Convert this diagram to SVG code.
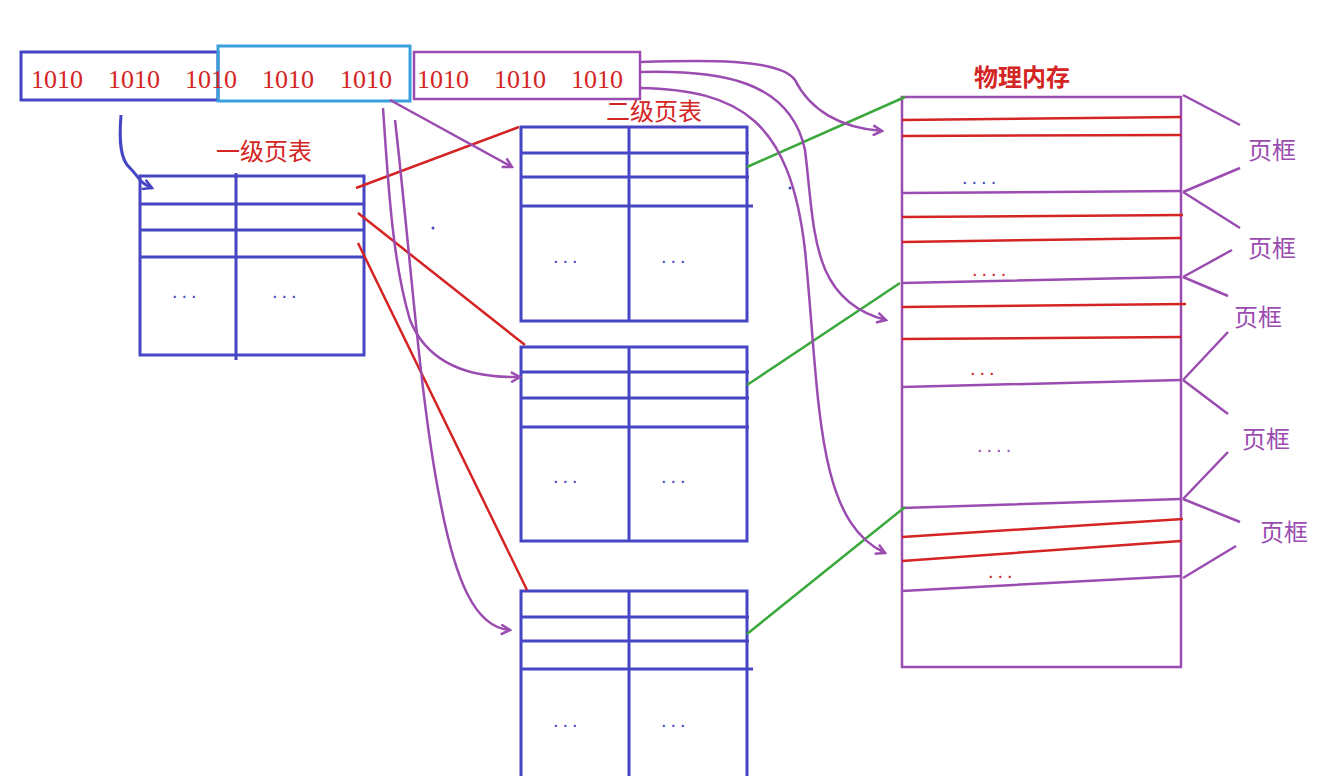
<svg xmlns="http://www.w3.org/2000/svg" width="1330" height="776" viewBox="0 0 1330 776">
<style>
.b{fill:none;stroke:#4646c4;stroke-width:3}
.r{fill:none;stroke:#d42424;stroke-width:2.5}
.p{fill:none;stroke:#9a4cb0;stroke-width:2.5}
.g{fill:none;stroke:#3aa83a;stroke-width:2.5}
.num{font-family:"Liberation Serif",serif;font-size:26px;fill:#d42424}
.t{font-family:"Liberation Serif","Noto Sans CJK SC",serif;font-size:24px;fill:#d42424}
.f{font-family:"Liberation Serif","Noto Sans CJK SC",serif;font-size:24px;fill:#9a4cb0}
.d{font-family:"Liberation Sans",sans-serif;font-size:20px;fill:#4646c4;letter-spacing:4px}
.dr{font-family:"Liberation Sans",sans-serif;font-size:20px;fill:#d42424;letter-spacing:4px}
.dp{font-family:"Liberation Sans",sans-serif;font-size:20px;fill:#9a4cb0;letter-spacing:4px}
</style>
<defs>
<marker id="ap" markerWidth="12" markerHeight="12" refX="10" refY="6" orient="auto" markerUnits="userSpaceOnUse"><polyline points="1,1 10,6 1,11" fill="none" stroke="#9a4cb0" stroke-width="2.5"/></marker>
<marker id="ab" markerWidth="12" markerHeight="12" refX="10" refY="6" orient="auto" markerUnits="userSpaceOnUse"><polyline points="1,1 10,6 1,11" fill="none" stroke="#4646c4" stroke-width="2.5"/></marker>
</defs>
<rect width="1330" height="776" fill="#fff"/>
<g id="address">
<rect x="21" y="52" width="197" height="48" class="b"/>
<rect x="218" y="46" width="192" height="55" fill="none" stroke="#3aa0dc" stroke-width="3"/>
<rect x="414" y="52" width="226" height="47" class="p"/>
<text class="num" x="31" y="88">1010</text><text class="num" x="108" y="88">1010</text><text class="num" x="185" y="88">1010</text>
<text class="num" x="262" y="88">1010</text><text class="num" x="340" y="88">1010</text>
<text class="num" x="417" y="88">1010</text><text class="num" x="494" y="88">1010</text><text class="num" x="571" y="88">1010</text>
</g>
<g id="l1">
<text class="t" x="216" y="160">一级页表</text>
<rect x="140" y="176" width="224" height="179" class="b"/>
<path class="b" d="M236 173V360M140 204H364M140 230H364M140 257H364"/>
<text class="d" x="172" y="298">...</text><text class="d" x="272" y="298">...</text>
</g>
<g id="l2a">
<text class="t" x="606" y="120">二级页表</text>
<rect x="521" y="127" width="226" height="194" class="b"/>
<path class="b" d="M629 127V321M521 153H749M521 177H749M521 206H753"/>
<text class="d" x="553" y="263">...</text><text class="d" x="661" y="263">...</text>
</g>
<g id="l2b">
<rect x="521" y="347" width="226" height="194" class="b"/>
<path class="b" d="M629 347V541M521 372H749M521 398H749M521 427H749"/>
<text class="d" x="553" y="483">...</text><text class="d" x="661" y="483">...</text>
</g>
<g id="l2c">
<path class="b" d="M521 776V591H747V776M629 591V776M521 617H749M521 641H749M521 669H753"/>
<text class="d" x="553" y="727">...</text><text class="d" x="661" y="727">...</text>
</g>
<g id="mem">
<text class="t" x="974" y="86" font-weight="bold">物理内存</text>
<rect x="902" y="97" width="279" height="570" class="p"/>
<path class="r" d="M902 120L1181 117M902 136L1181 135M902 217L1183 215M902 242L1181 238M902 307L1186 304M902 339L1181 337M902 537L1183 519M902 561L1181 541"/>
<path class="p" d="M902 193L1181 191M902 283L1181 277M902 387L1181 380M902 508L1181 499M902 591L1181 576"/>
<text class="d" x="962" y="184">....</text><text class="dr" x="972" y="276">....</text>
<text class="dr" x="970" y="375">...</text><text class="dp" x="977" y="452">....</text><text class="dr" x="988" y="578">...</text>
</g>
<g id="labels">
<text class="f" x="1248" y="159">页框</text><text class="f" x="1248" y="257">页框</text>
<text class="f" x="1234" y="326">页框</text><text class="f" x="1242" y="448">页框</text><text class="f" x="1260" y="541">页框</text>
<path class="p" d="M1183 95L1240 125M1183 192L1240 168M1183 192L1240 228M1183 277L1232 250M1183 277L1228 296M1183 380L1228 332M1183 380L1228 414M1183 499L1228 452M1183 499L1240 522M1183 578L1236 546"/>
</g>
<g id="connectors">
<path class="b" marker-end="url(#ab)" d="M121 115C119 140 120 160 130 168C140 178 138 182 152 188"/>
<path class="r" d="M356 188L519 127M358 213L525 345M358 243L527 590"/>
<path class="g" d="M747 167L905 97M747 385L900 283M747 634L905 507"/>
<path class="p" marker-end="url(#ap)" d="M390 100L512 167"/>
<path class="p" marker-end="url(#ap)" d="M383 108C388 180 392 260 410 320C430 370 480 378 520 377"/>
<path class="p" marker-end="url(#ap)" d="M395 120C410 250 420 400 440 500C455 580 475 628 510 630"/>
<path class="p" marker-end="url(#ap)" d="M640 62C700 60 780 58 795 80C810 110 840 128 882 131"/>
<path class="p" marker-end="url(#ap)" d="M640 72C720 70 790 80 805 150C815 230 810 300 886 320"/>
<path class="p" marker-end="url(#ap)" d="M640 88C740 90 790 120 805 250C820 400 815 520 885 553"/>
<circle cx="433" cy="228" r="1.5" fill="#4646c4"/><circle cx="790" cy="188" r="1.5" fill="#4646c4"/>
</g>
</svg>
